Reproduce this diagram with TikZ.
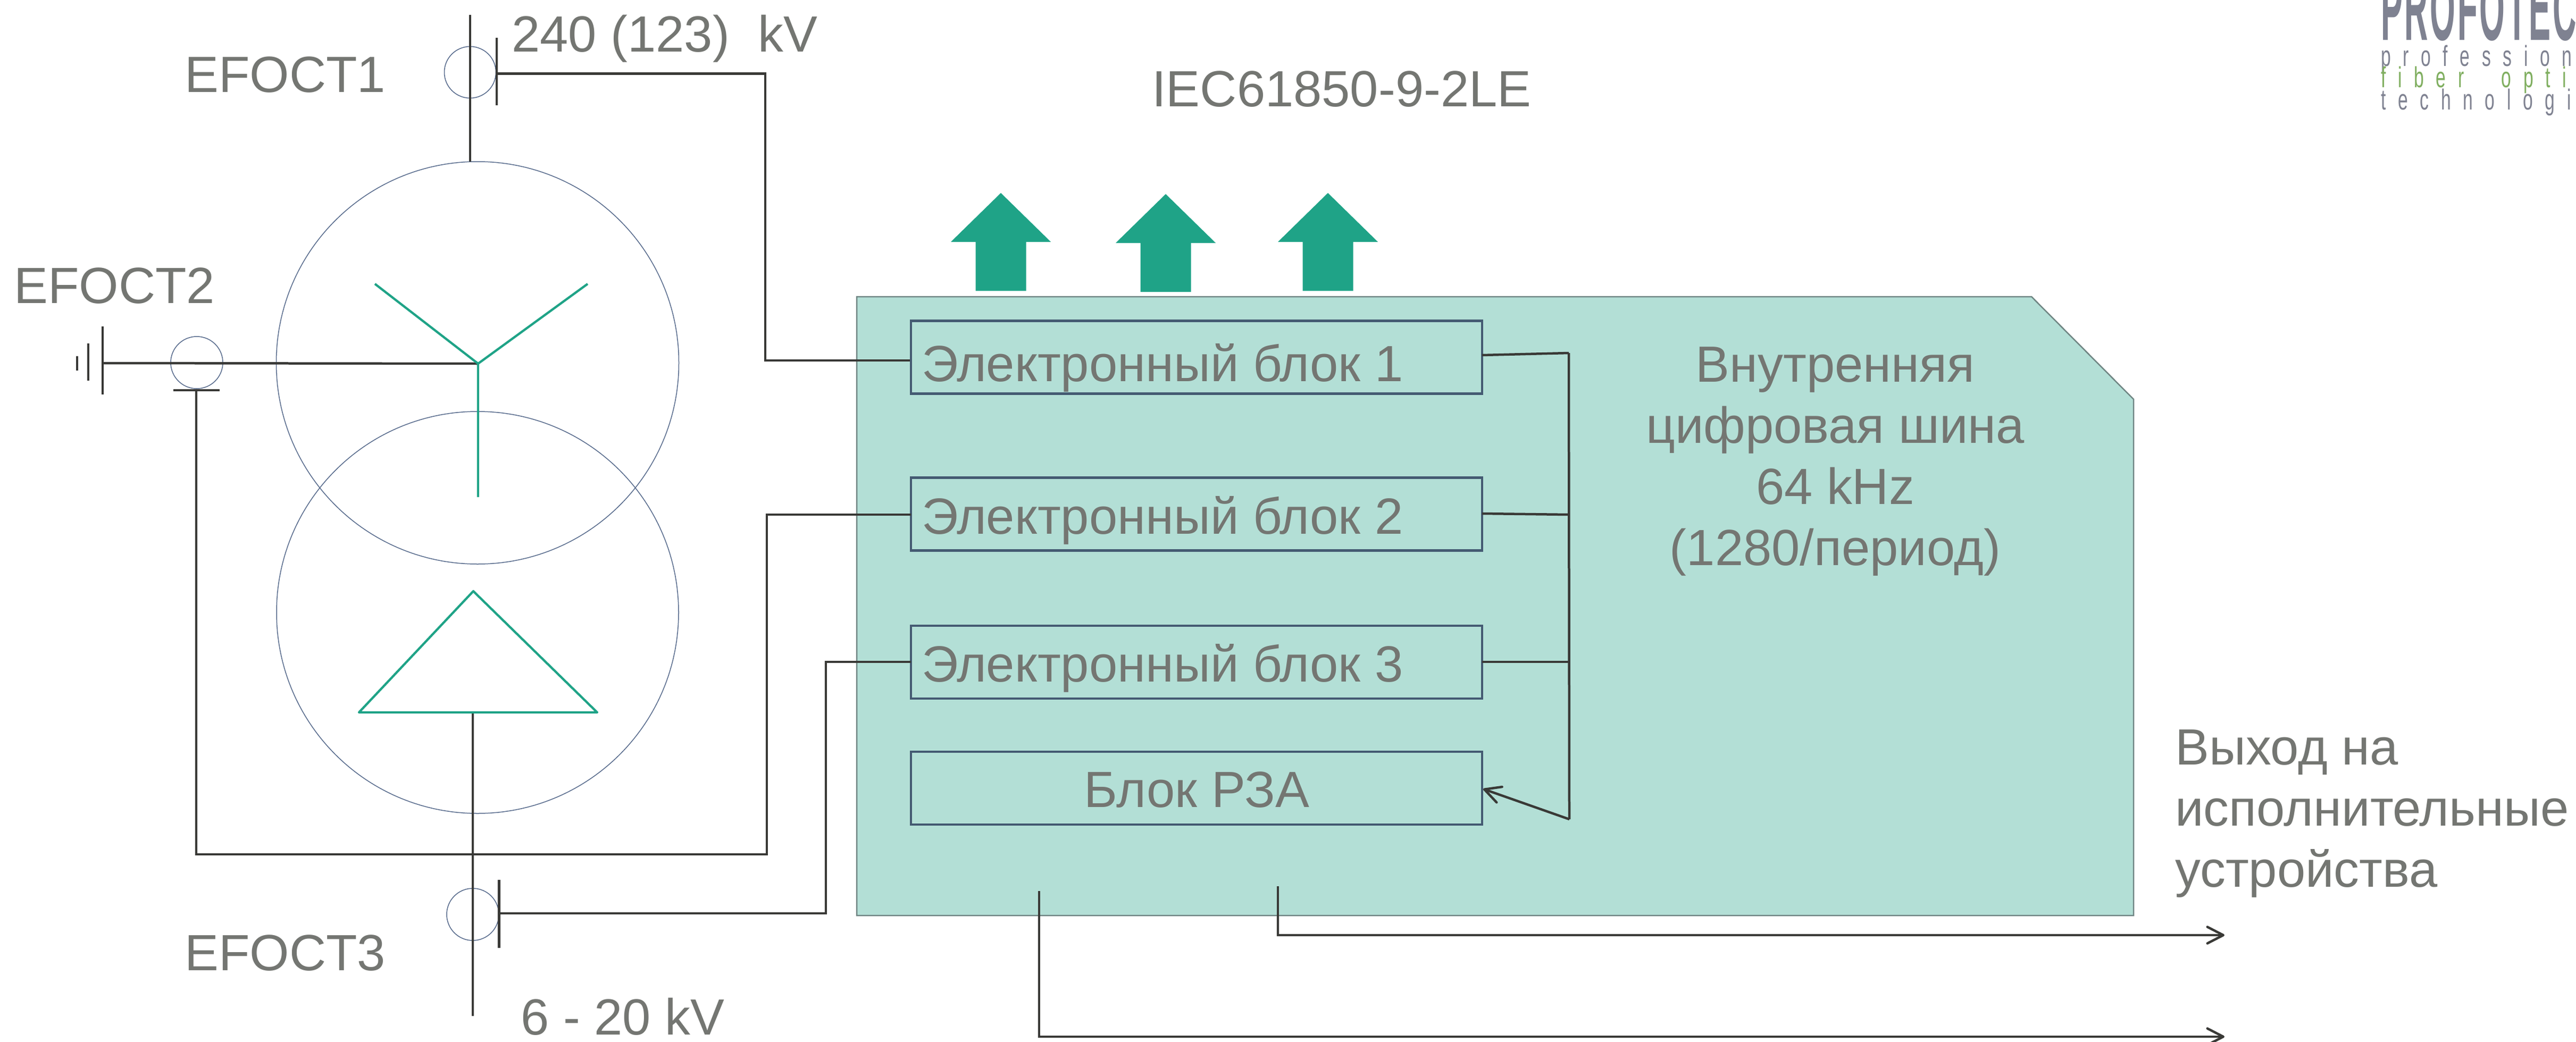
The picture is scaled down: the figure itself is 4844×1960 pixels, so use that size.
\documentclass[tikz,border=0pt]{standalone}
\usepackage{fontspec}
\usetikzlibrary{arrows.meta}
\setmainfont{Liberation Sans}
\newfontfamily\logofont[LetterSpace=67]{Liberation Sans}
\newfontfamily\logobold[LetterSpace=6]{Liberation Sans}
\definecolor{wire}{HTML}{393936}
\definecolor{thin}{HTML}{54688A}
\definecolor{edge}{HTML}{445A72}
\definecolor{panel}{HTML}{B3DFD6}
\definecolor{panelline}{HTML}{6F8583}
\definecolor{teal}{HTML}{1FA387}
\definecolor{txt}{HTML}{747672}
\definecolor{logogray}{HTML}{7F8291}
\definecolor{logogreen}{HTML}{7FAE5F}
\tikzset{
  wireline/.style={draw=wire,line width=0.09cm},
  fineline/.style={draw=thin,line width=0.03cm},
  greenline/.style={draw=teal,line width=0.085cm,line join=round},
  barb/.style={-{Straight Barb[length=0.6cm,width=0.62cm,line width=0.09cm,round]}},
  label/.style={text=txt,font=\fontsize{54.5}{66}\selectfont,inner sep=0pt,anchor=base west},
  clabel/.style={text=txt,font=\fontsize{54.5}{66}\selectfont,inner sep=0pt,anchor=base},
  blockbox/.style={draw=edge,line width=0.085cm,inner sep=0pt,minimum height=2.74cm,minimum width=21.48cm},
  uparrow/.style={fill=teal,draw=none},
  logotxt/.style={inner sep=0pt,anchor=base west,xscale=0.62,font=\logofont\fontsize{31}{31}\selectfont},
}
\begin{document}
\begin{tikzpicture}[x=0.02cm,y=-0.02cm]
\useasboundingbox (0,0) rectangle (4844,1960);
\clip (0,0) rectangle (4844,1960);

% panel
\draw[fill=panel,draw=panelline,line width=0.05cm] (1611,558) -- (3820,558) -- (4012,751) -- (4012,1722) -- (1611,1722) -- cycle;

% up arrows
\foreach \c/\d in {1882/0,2192/2,2497/0}{
  \fill[uparrow] (\c,363+\d) -- (\c+94,455+\d) -- (\c+47.5,455+\d) -- (\c+47.5,547+\d) -- (\c-47.5,547+\d) -- (\c-47.5,455+\d) -- (\c-94,455+\d) -- cycle;
}

% windings
\draw[fineline] (898,682.5) circle (378.5);
\draw[fineline] (898,1152) circle (378);
\draw[fineline] (884,136) circle (48.5);
\draw[fineline] (370,682) circle (49);
\draw[fineline] (889,1720) circle (49);

% blocks
\node[blockbox] (b1) at (2250,672) {};
\node[blockbox] (b2) at (2250,967) {};
\node[blockbox] (b3) at (2250,1245.5) {};
\node[blockbox] (b4) at (2250,1482.5) {};
\node[label] (t1) at (1733,717) {Электронный блок 1};
\node[label] (t2) at (1733,1004) {Электронный блок 2};
\node[label] (t3) at (1733,1282) {Электронный блок 3};
\node[clabel] (t4) at (2250,1518) {Блок РЗА};

% named points
\coordinate (s1top) at (884,28);
\coordinate (s1bot) at (884,304);
\coordinate (s1a) at (934,71);
\coordinate (s1b) at (934,198);
\coordinate (s1c) at (934,138.5);
\coordinate (s1d) at (1439,138.5);
\coordinate (s1e) at (1439,678);
\coordinate (g1a) at (193,614);
\coordinate (g1b) at (193,742);
\coordinate (g2a) at (166,646);
\coordinate (g2b) at (166,716);
\coordinate (g3a) at (145,670);
\coordinate (g3b) at (145,697);
\coordinate (g0) at (193,683);
\coordinate (star) at (899,684);
\coordinate (s2a) at (326,734);
\coordinate (s2b) at (413,734);
\coordinate (s2c) at (369,734);
\coordinate (s2d) at (369,1607);
\coordinate (s2e) at (1442,1607);
\coordinate (s2f) at (1442,968);
\coordinate (s2g) at (1713,968);
\coordinate (tri) at (889,1340);
\coordinate (lv) at (889,1911);
\coordinate (s3a) at (938.5,1655);
\coordinate (s3b) at (938.5,1783);
\coordinate (s3c) at (938.5,1718);
\coordinate (s3d) at (1553,1718);
\coordinate (s3e) at (1553,1245);
\coordinate (s3f) at (1713,1245);
\coordinate (bus1) at (2950,664);
\coordinate (bus2) at (2950,968);
\coordinate (bus3) at (2950,1245);
\coordinate (bus4) at (2951,1541);
\coordinate (b1r) at (2787,668);
\coordinate (b2r) at (2787,966);
\coordinate (b3r) at (2787,1245);
\coordinate (b4r) at (2789,1484);
\coordinate (oa) at (1954,1676);
\coordinate (ob) at (1954,1950);
\coordinate (oc) at (4183,1950);
\coordinate (pa) at (2403,1667);
\coordinate (pb) at (2403,1759);
\coordinate (pc) at (4183,1759);

% wires
\draw[wireline] (s1top) -- (s1bot);
\draw[wireline] (s1a) -- (s1b);
\draw[wireline,line join=miter] (s1c) -- (s1d) -- (s1e) -- (b1.west |- s1e);
\draw[wireline] (g1a) -- (g1b);
\draw[wireline] (g2a) -- (g2b);
\draw[wireline] (g3a) -- (g3b);
\draw[wireline] (g0) -- (star);
\draw[wireline] (s2a) -- (s2b);
\draw[wireline,line join=miter] (s2c) -- (s2d) -- (s2e) -- (s2f) -- (s2g);
\draw[wireline] (tri) -- (lv);
\draw[wireline] (s3a) -- (s3b);
\draw[wireline,line join=miter] (s3c) -- (s3d) -- (s3e) -- (s3f);
\draw[wireline] (bus1) -- (bus4);
\draw[wireline] (b1r) -- (bus1);
\draw[wireline] (b2r) -- (bus2);
\draw[wireline] (b3r) -- (bus3);
\draw[wireline,barb] (bus4) -- (b4r);
\draw[wireline,barb] (oa) -- (ob) -- (oc);
\draw[wireline,barb] (pa) -- (pb) -- (pc);

% star and delta
\draw[greenline] (705,534) -- (star) -- (1105,534);
\draw[greenline] (star) -- (899,935);
\draw[greenline] (890,1112) -- (675,1340) -- (1123,1340) -- cycle;

% labels
\node[label] (l1) at (347,174) {EFOCT1};
\node[label] (l2) at (26,570) {EFOCT2};
\node[label] (l3) at (347,1825) {EFOCT3};
\node[label] (hv) at (962,98) {240 (123)\ \ kV};
\node[label] (lvt) at (979,1946) {6 - 20 kV};
\node[label] (iec) at (2166,201) {IEC61850-9-2LE};
\node[clabel] (c1) at (3451,718) {Внутренняя};
\node[clabel] (c2) at (3451,833) {цифровая шина};
\node[clabel] (c3) at (3451,948) {64 kHz};
\node[clabel] (c4) at (3451,1063) {(1280/период)};
\node[label] (r1) at (4090,1438) {Выход на};
\node[label] (r2) at (4090,1553) {исполнительные};
\node[label] (r3) at (4090,1668) {устройства};

% logo
\node[inner sep=0pt,anchor=base west,xscale=0.35,text=logogray,font=\logobold\bfseries\fontsize{100}{100}\selectfont] (lg0) at (4477,76) {PROFOTEC};
\node[logotxt,text=logogray] (lg1) at (4477,125) {professional};
\node[logotxt,text=logogreen] (lg2) at (4477,165) {fiber\ \ \hspace{6pt}optic};
\node[logotxt,text=logogray] (lg3) at (4477,207) {technologies};
\end{tikzpicture}
\end{document}
